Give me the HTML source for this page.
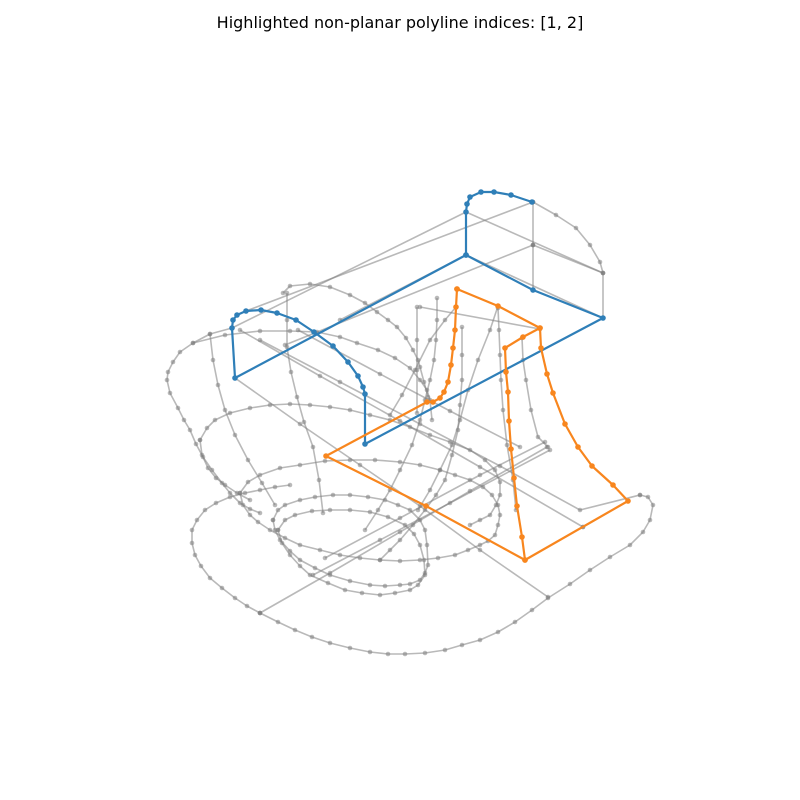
<!DOCTYPE html>
<html><head><meta charset="utf-8"><style>
html,body{margin:0;padding:0;background:#fff}
svg{display:block}
</style></head><body>
<svg id="chart" width="800" height="800" viewBox="0 0 800 800" xmlns="http://www.w3.org/2000/svg">
<rect width="800" height="800" fill="#fff"/>
<text x="400" y="28" text-anchor="middle" font-family="DejaVu Sans, Liberation Sans, sans-serif" font-size="16" fill="#000">Highlighted non-planar polyline indices: [1, 2]</text>
<g id="gray"></g><g id="hl"></g>
</svg>
<script>
// gray polylines (projected screen coords)
const grayLines = [
 [[533,202],[556,215],[576,228],[590,245],[600,262],[603,273],[603,318]],
 [[533,202],[533,245],[533,290]],
 [[466,212],[603,273]],
 [[533,245],[603,273]],
 [[466,255],[603,318]],
 [[533,202],[246,311]],
 [[466,212],[232,328]],
 [[533,245],[285,345]],
 [[466,255],[340,320]],
 [[283,293],[290,286],[310,284],[330,287],[350,295],[365,303],[377,312],[388,320],[397,327],[406,338],[413,350],[418,360],[420,367],[424,382],[428,397]],
 [[287,293],[287,320],[287,347],[291,372],[297,397],[304,422],[313,447],[319,480],[323,513]],
 [[232,328],[210,334],[193,343],[180,352],[173,362],[168,372],[167,380],[170,393],[178,408],[184,420],[190,430],[196,444],[203,457],[212,470],[222,483],[230,493],[240,503],[250,509],[260,513]],
 [[193,343],[225,335],[260,331],[290,331],[317,332],[340,337],[357,343],[378,350],[395,358],[410,368],[420,380],[427,390],[430,400],[432,420]],
 [[210,334],[213,360],[218,385],[225,410],[235,435],[248,460],[262,483],[275,505]],
 [[200,440],[207,428],[215,420],[230,413],[250,408],[270,405],[290,404],[310,405],[330,407],[350,410],[370,415],[390,420],[410,427],[430,435],[450,442],[470,450],[485,460],[495,470],[500,482],[500,495],[496,505],[490,515],[480,520],[470,525]],
 [[200,440],[202,455],[208,468],[216,478],[225,485],[237,493],[250,500]],
 [[240,493],[248,482],[260,475],[280,468],[300,465],[325,461],[350,460],[375,460],[400,462],[420,465],[440,470],[455,475],[470,480],[483,487],[492,495],[498,505],[500,515],[498,525],[495,535],[488,541],[480,545],[468,550],[455,555],[438,558],[420,560],[400,561],[380,560],[360,558],[340,555],[320,550],[300,545],[285,538],[270,530],[258,522],[250,515],[243,505],[240,493]],
 [[273,520],[278,510],[285,505],[300,500],[315,497],[333,495],[350,495],[368,497],[385,500],[398,505],[410,510],[420,520],[425,530],[427,545],[428,565],[425,573],[420,580],[410,584],[400,585],[385,586],[370,585],[350,581],[330,575],[315,568],[300,560],[290,551],[280,540],[275,530],[273,520]],
 [[278,530],[285,520],[295,515],[312,511],[330,510],[350,510],[370,512],[388,517],[405,525],[414,534],[420,545],[424,560],[425,575],[418,585],[410,590],[395,593],[380,595],[362,593],[345,590],[328,583],[310,575],[300,566],[290,555],[282,543],[278,530]],
 [[260,613],[247,606],[235,598],[222,588],[210,578],[201,566],[195,555],[192,543],[192,530],[197,520],[205,510],[216,503],[230,497],[245,493],[260,490],[275,487],[290,485]],
 [[260,613],[278,622],[295,630],[312,637],[330,643],[350,648],[370,652],[388,654],[405,654],[425,653],[445,650],[462,645],[480,640],[498,632],[515,622],[532,610],[548,598],[570,584],[590,570],[610,557],[630,545],[643,532],[650,520],[653,505],[648,497],[640,495]],
 [[235,378],[300,424],[360,465],[420,506],[480,550],[548,597]],
 [[240,330],[320,376],[400,421],[480,467],[583,527]],
 [[298,330],[380,374],[450,411],[520,447]],
 [[260,340],[340,382],[420,424],[500,466],[580,510],[640,495]],
 [[260,613],[330,573],[400,532],[470,491],[547,447]],
 [[313,575],[380,540],[450,503],[550,450]],
 [[325,558],[400,518],[480,475],[545,442]],
 [[583,527],[628,501]],
 [[420,307],[540,329]],
 [[417,307],[417,340],[417,370],[417,413]],
 [[437,298],[437,320],[436,340],[434,360],[430,380],[425,400],[420,420],[412,445],[400,470],[390,490],[378,510],[365,530]],
 [[462,327],[462,355],[462,380],[460,405],[458,430],[452,455],[445,480],[436,495],[425,510],[413,525],[400,540],[390,550],[380,560]],
 [[498,308],[499,330],[500,355],[501,380],[503,410],[507,445],[513,480],[516,510]],
 [[522,338],[523,360],[526,380],[531,410],[538,437],[548,447]],
 [[456,307],[445,320],[430,340],[415,370],[402,395],[390,415]],
 [[498,306],[490,330],[478,360],[468,390],[460,420],[452,445],[440,470],[430,490],[418,510]],
];
// highlighted polyline 1 (blue) and 2 (orange)
const bluePath = [[532,202],[511,195],[494,192],[481,192],[470,197],[467,204],[466,212],[466,255],[533,290],[603,318],[365,444],[365,394],[363,387],[358,376],[348,362],[333,346],[314,332],[296,320],[277,313],[261,310],[246,311],[237,315],[233,320],[232,328],[235,378],[466,255]];
const orangePath = [[457,289],[456,307],[455,330],[453,348],[451,365],[448,382],[444,392],[440,398],[433,402],[427,402],[326,456],[426,506],[525,560],[628,501],[613,485],[592,466],[578,447],[565,424],[553,393],[547,374],[541,348],[540,328],[523,337],[505,348],[506,372],[508,392],[509,421],[511,449],[514,478],[517,506],[522,537],[525,560]];
const orangeTop = [[457,289],[498,306],[540,328]];

const NS='http://www.w3.org/2000/svg';
function drawLine(parent, pts, color, width, r, name){
  const pl=document.createElementNS(NS,'polyline');
  pl.setAttribute('points', pts.map(p=>p[0]+','+p[1]).join(' '));
  pl.setAttribute('fill','none'); pl.setAttribute('stroke',color);
  pl.setAttribute('stroke-width',width); pl.setAttribute('stroke-linejoin','round');
  
  
  parent.appendChild(pl);
  pts.forEach(p=>{
    const c=document.createElementNS(NS,'circle');
    c.setAttribute('cx',p[0]); c.setAttribute('cy',p[1]); c.setAttribute('r',r);
    c.setAttribute('fill',color);
    
    
    parent.appendChild(c);
  });
}
const g=document.getElementById('gray'), h=document.getElementById('hl');
grayLines.forEach((pts)=>drawLine(g, pts, 'rgba(128,128,128,0.55)', 1.6, 2.3, 'gray-polyline'));
drawLine(h, bluePath, '#2f7fb8', 2.2, 2.8, 'highlight-polyline-1');
drawLine(h, orangePath, '#f8861e', 2.2, 2.8, 'highlight-polyline-2');
drawLine(h, orangeTop, '#f8861e', 2.2, 2.8, 'highlight-polyline-2-top');
</script>
</body></html>
